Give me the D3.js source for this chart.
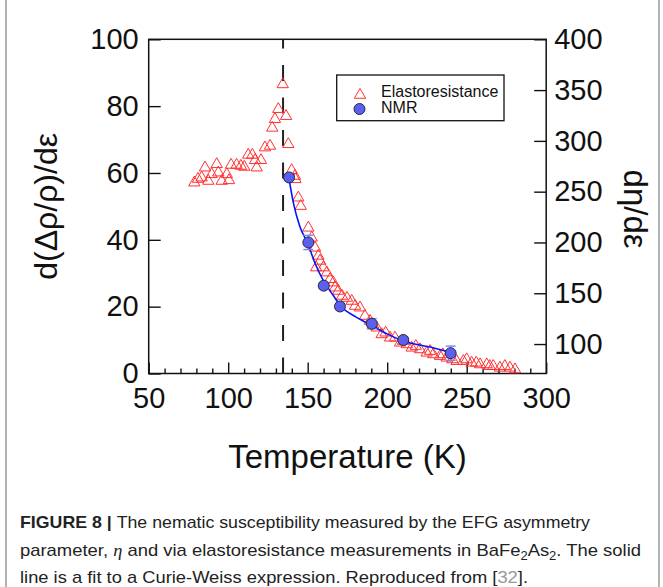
<!DOCTYPE html>
<html lang="en">
  <head>
    <meta charset="utf-8" />
    <title>Nematic susceptibility BaFe2As2</title>
    <script src="https://d3js.org/d3.v7.min.js"></script>
    <style>
      body { margin: 0; background: white; }
      text { font-family: "Liberation Sans", Arial, sans-serif; }
    </style>
  </head>
  <body>
    <div id="chart"></div>
    <script>
      // elastoresistance (left axis)
      var erTemp = [78.7, 81, 83.3, 85.4, 87.5, 89.6, 92.8, 93.8, 95.9, 99.1,
        100.5, 101.8, 105.3, 108, 110.1, 112.6, 115.2, 116.9, 117.9, 120.6,
        123.1, 126.3, 127.7, 129.4, 131.5, 134.3, 136.4, 137.8, 139.9, 142,
        142.3, 144.1, 145.6, 150.4, 152.5, 154.6, 155.3, 156.7, 157.7, 159.8,
        162, 164, 166.1, 167.2, 169.2, 171.6, 174.7, 177.7, 179.8, 182.9,
        186, 189.2, 191, 193.4, 196.5, 199, 201.8, 204.9, 208.1, 210, 212.3,
        215.4, 218, 220.6, 224.8, 227, 229, 233.2, 235, 237.4, 241, 243.7,
        247.9, 250, 253.1, 256, 258.4, 262.6, 264.5, 266.7, 270.9, 274,
        277.2, 280.4];
      var erValue = [57.4, 58.5, 58.9, 61.9, 57.9, 59.9, 62.9, 60.4, 57.9, 59.9,
        58.1, 62.7, 62.7, 62.4, 62.1, 65.7, 65.7, 64.1, 61.9, 64.1,
        67.9, 68.4, 73.8, 76.4, 79.4, 86.8, 77.3, 68.9, 61.1, 59.4,
        58.4, 52.9, 50.4, 43.9, 40.9, 37.9, 32.0, 35.5, 34.0, 32.0,
        30.5, 28.5, 27.5, 26.0, 25.0, 23.5, 22.9, 22.0, 20.5, 20.0,
        17.5, 16.0, 15.0, 14.0, 12.0, 12.5, 11.0, 11.0, 9.5, 10.0, 9.0,
        8.0, 8.5, 7.5, 6.5, 7.0, 6.0, 5.5, 6.0, 5.0, 4.5, 4.0,
        4.0, 4.5, 3.5, 3.5, 3.0, 3.0, 2.5, 2.5, 2.0, 2.5,
        2.0, 1.5];

      // NMR (right axis)
      var nmrTemp = [138.3, 150.4, 160.1, 170.3, 190.3, 210.1, 239.9];
      var nmrValue = [264, 200, 157.5, 137, 120, 104, 91];
      var nmrErr = [3, 7, 3, 3, 5, 3, 7];

      // Curie-Weiss fit as drawn (right axis)
      var fitTemp = [138, 141, 145, 150, 155, 160, 166, 171, 180, 190, 200, 210, 227, 240];
      var fitValue = [265, 239, 216, 199, 178, 162, 148, 137, 127, 118.5, 110, 103, 97, 91.5];

      var tcTemp = 134.5;

      var xTicks = [50, 100, 150, 200, 250, 300];
      var xMinor = d3.range(50, 301, 10).filter(function (d) { return d % 50 !== 0; });
      var yLeftTicks = [0, 20, 40, 60, 80, 100];
      var yRightTicks = [100, 150, 200, 250, 300, 350, 400];

      var width = 663;
      var height = 587;
      var plotLeft = 148.7, plotRight = 546.2, plotTop = 39.3, plotBottom = 373.5;

      var svg = d3
        .select("#chart")
        .append("svg")
        .attr("width", width)
        .attr("height", height);

      // figure frame
      svg.append("line").attr("x1", 6).attr("x2", 6).attr("y1", 0).attr("y2", height)
        .attr("stroke", "#9a9a9a").attr("stroke-width", 1.5);
      svg.append("line").attr("x1", 659).attr("x2", 659).attr("y1", 0).attr("y2", height)
        .attr("stroke", "#9a9a9a").attr("stroke-width", 1.5);

      var x = d3.scaleLinear().domain([50, 300]).range([plotLeft, plotRight]);
      var yL = d3.scaleLinear().domain([0, 100]).range([plotBottom, plotTop]);
      var yR = d3.scaleLinear().domain([71, 400]).range([plotBottom, plotTop]);

      function styleAxis(g) {
        g.select(".domain").remove();
        g.selectAll(".tick line").attr("stroke", "#111").attr("stroke-width", 1.4);
        g.selectAll(".tick text")
          .attr("fill", "#111")
          .style("font-size", "29px")
          .style("font-family", "'Liberation Sans', Arial, sans-serif");
      }

      svg.append("g")
        .attr("transform", "translate(0," + plotBottom + ")")
        .call(d3.axisBottom(x).tickValues(xMinor).tickSize(-5).tickFormat(""))
        .call(styleAxis);

      svg.append("g")
        .attr("transform", "translate(0," + plotBottom + ")")
        .call(d3.axisBottom(x).tickValues(xTicks).tickSize(-11).tickPadding(14))
        .call(styleAxis);

      svg.append("g")
        .attr("transform", "translate(" + plotLeft + ",0)")
        .call(d3.axisLeft(yL).tickValues(yLeftTicks).tickSize(-12).tickPadding(10))
        .call(styleAxis);

      svg.append("g")
        .attr("transform", "translate(" + plotRight + ",0)")
        .call(d3.axisRight(yR).tickValues(yRightTicks).tickSize(-12).tickPadding(8))
        .call(styleAxis);

      svg.append("rect")
        .attr("x", plotLeft)
        .attr("y", plotTop)
        .attr("width", plotRight - plotLeft)
        .attr("height", plotBottom - plotTop)
        .attr("fill", "none")
        .attr("stroke", "#111")
        .attr("stroke-width", 1.5);

      // structural transition
      svg.append("line")
        .attr("x1", x(tcTemp))
        .attr("x2", x(tcTemp))
        .attr("y1", plotBottom)
        .attr("y2", plotTop)
        .attr("stroke", "#222")
        .attr("stroke-width", 2)
        .attr("stroke-dasharray", "16,16.5");

      var tri = d3.symbol().type(d3.symbolTriangle).size(56);

      svg.append("g")
        .selectAll("path")
        .data(erTemp)
        .join("path")
        .attr("d", tri)
        .attr("transform", function (d, i) {
          return "translate(" + x(d) + "," + (yL(erValue[i]) + 1) + ")";
        })
        .attr("fill", "none")
        .attr("stroke", "#ff3030")
        .attr("stroke-width", 1);

      svg.append("path")
        .datum(fitTemp)
        .attr("fill", "none")
        .attr("stroke", "#0015ff")
        .attr("stroke-width", 1.6)
        .attr("d", d3.line()
          .curve(d3.curveMonotoneX)
          .x(function (d) { return x(d); })
          .y(function (d, i) { return yR(fitValue[i]); }));

      var err = svg.append("g").attr("stroke", "#7a86f2").attr("stroke-width", 1.4);
      nmrTemp.forEach(function (t, i) {
        var cx = x(t);
        var y1 = yR(nmrValue[i] + nmrErr[i]);
        var y2 = yR(nmrValue[i] - nmrErr[i]);
        err.append("line").attr("x1", cx).attr("x2", cx).attr("y1", y1).attr("y2", y2);
        err.append("line").attr("x1", cx - 5).attr("x2", cx + 5).attr("y1", y1).attr("y2", y1);
        err.append("line").attr("x1", cx - 5).attr("x2", cx + 5).attr("y1", y2).attr("y2", y2);
      });

      svg.append("g")
        .selectAll("circle")
        .data(nmrTemp)
        .join("circle")
        .attr("cx", function (d) { return x(d); })
        .attr("cy", function (d, i) { return yR(nmrValue[i]); })
        .attr("r", 5.5)
        .attr("fill", "#5a5ff0")
        .attr("stroke", "#2a2a3a")
        .attr("stroke-width", 1);

      // legend
      var legend = svg.append("g");
      legend.append("rect")
        .attr("x", 336.7).attr("y", 75)
        .attr("width", 167.3).attr("height", 45.7)
        .attr("fill", "white").attr("stroke", "#111").attr("stroke-width", 1.3);
      legend.append("path")
        .attr("d", tri)
        .attr("transform", "translate(360,95)")
        .attr("fill", "none").attr("stroke", "#ff3030");
      legend.append("circle")
        .attr("cx", 359.5).attr("cy", 109).attr("r", 5.5)
        .attr("fill", "#5a5ff0").attr("stroke", "#2a2a3a");
      legend.append("text").attr("x", 381).attr("y", 97)
        .style("font-size", "16px").attr("fill", "#111").text("Elastoresistance");
      legend.append("text").attr("x", 381).attr("y", 113)
        .style("font-size", "16px").attr("fill", "#111").text("NMR");

      // axis titles
      svg.append("text")
        .attr("x", (plotLeft + plotRight) / 2)
        .attr("y", 468)
        .attr("text-anchor", "middle")
        .style("font-size", "33px")
        .attr("fill", "#111")
        .text("Temperature (K)");

      svg.append("text")
        .attr("transform", "translate(57," + (plotTop + plotBottom) / 2 + ") rotate(-90)")
        .attr("text-anchor", "middle")
        .style("font-size", "32px")
        .attr("fill", "#111")
        .text("d(\u0394\u03c1/\u03c1)/d\u03b5");

      svg.append("text")
        .attr("transform", "translate(624,209) rotate(90)")
        .attr("text-anchor", "middle")
        .style("font-size", "33px")
        .attr("fill", "#111")
        .text("d\u03b7/d\u03b5");

      // caption
      var cap1 = svg.append("text").attr("x", 20).attr("y", 528)
        .attr("textLength", 570).attr("lengthAdjust", "spacingAndGlyphs")
        .style("font-size", "17px").attr("fill", "#222");
      cap1.append("tspan").attr("font-weight", "bold").text("FIGURE 8 | ");
      cap1.append("tspan").text("The nematic susceptibility measured by the EFG asymmetry");

      var cap2 = svg.append("text").attr("x", 20).attr("y", 556)
        .attr("textLength", 621).attr("lengthAdjust", "spacingAndGlyphs")
        .style("font-size", "17px").attr("fill", "#222");
      cap2.append("tspan").text("parameter, ");
      cap2.append("tspan").attr("font-style", "italic")
        .style("font-family", "'Liberation Serif', serif").text("\u03b7");
      cap2.append("tspan").text(" and via elastoresistance measurements in BaFe");
      cap2.append("tspan").attr("dy", 4).style("font-size", "12px").text("2");
      cap2.append("tspan").attr("dy", -4).text("As");
      cap2.append("tspan").attr("dy", 4).style("font-size", "12px").text("2");
      cap2.append("tspan").attr("dy", -4).text(". The solid");

      var cap3 = svg.append("text").attr("x", 20).attr("y", 583)
        .attr("textLength", 508).attr("lengthAdjust", "spacingAndGlyphs")
        .style("font-size", "17px").attr("fill", "#222");
      cap3.append("tspan").text("line is a fit to a Curie-Weiss expression. Reproduced from [");
      cap3.append("tspan").attr("fill", "#999").text("32");
      cap3.append("tspan").text("].");
    </script>
  </body>
</html>
